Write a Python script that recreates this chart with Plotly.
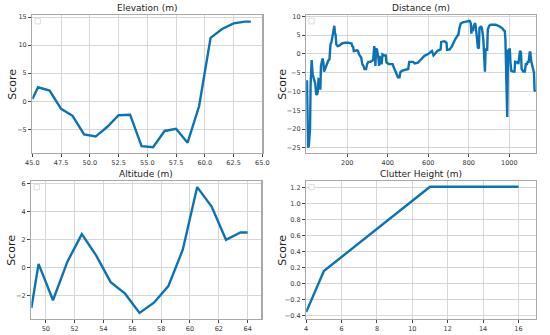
import plotly.graph_objects as go

# ---------------- data ----------------
elev_x = [45.0, 45.5, 46.5, 47.5, 48.5, 49.5, 50.5, 51.5, 52.5, 53.5, 54.5,
          55.5, 56.5, 57.5, 58.5, 59.5, 60.5, 61.5, 62.5, 63.5, 64.0]
elev_y = [0.4, 2.5, 1.9, -1.35, -2.6, -5.9, -6.3, -4.6, -2.5, -2.4, -8.0,
          -8.2, -5.3, -4.9, -7.4, -0.9, 11.3, 12.9, 13.9, 14.2, 14.2]

dist_x = [1, 3, 6, 10, 13, 16, 19, 21, 24, 29, 34, 38, 42, 46, 50, 54, 58, 62,
          64, 67, 70, 74, 78, 82, 85, 90, 98, 106, 112, 117, 122, 128, 133, 136,
          139, 142, 146, 152, 162, 173, 189, 205, 221, 224, 229, 232, 248, 253,
          258, 264, 269, 274, 280, 285, 293, 298, 304, 314, 322, 328, 333, 336,
          339, 342, 346, 350, 354, 357, 360, 365, 370, 374, 382, 390, 394, 405,
          413, 424, 430, 438, 445, 450, 458, 462, 469, 485, 501, 506, 517, 525,
          533, 549, 565, 581, 597, 610, 618, 626, 637, 645, 661, 664, 680, 690,
          693, 706, 717, 722, 733, 741, 749, 754, 760, 770, 789, 802, 805, 810,
          813, 816, 821, 824, 832, 837, 840, 845, 850, 853, 861, 866, 872, 877,
          880, 883, 886, 891, 894, 901, 909, 933, 949, 965, 973, 978, 981, 984,
          987, 990, 994, 997, 1000, 1003, 1006, 1010, 1021, 1026, 1029, 1037,
          1042, 1045, 1048, 1053, 1058, 1061, 1069, 1077, 1082, 1088, 1091, 1096,
          1101, 1104, 1109, 1117, 1122, 1125, 1130]
dist_y = [-7.0, -24.9, -24.9, -24.5, -23.0, -20.0, -8.0, -1.8, -1.6, -5.4, -6.7,
          -6.9, -8.0, -10.6, -10.9, -10.2, -6.7, -6.8, -9.3, -9.5, -3.2, -1.6,
          -1.2, -2.3, -4.7, -4.0, -2.7, -1.8, -1.4, 2.5, 3.2, 5.2, 7.4, 7.5,
          5.6, 5.2, 2.5, 2.1, 2.3, 2.8, 3.0, 3.0, 2.8, 2.1, 1.9, 0.8, 1.0, 0.8,
          -0.1, -0.5, -1.0, -2.7, -3.2, -4.0, -4.0, -2.7, -2.1, -2.1, -1.8, -1.6,
          2.1, 0.9, -3.2, 1.2, 1.4, 0.4, -1.2, -3.2, -0.5, -2.5, -2.5, -0.1,
          -0.4, -0.4, -2.3, -2.7, -2.7, -2.7, -3.6, -4.5, -5.4, -6.2, -6.2,
          -4.9, -4.5, -4.3, -4.0, -2.1, -2.1, -2.1, -2.5, -2.3, -1.4, -0.5,
          -0.1, 0.5, 0.8, -0.4, 0.3, 0.8, 1.2, 3.2, 3.4, 3.0, 1.1, 1.2, 2.1,
          2.8, 3.9, 4.6, 5.2, 6.9, 8.1, 8.4, 8.6, 8.7, 8.8, 8.2, 5.4, 6.5, 6.1,
          7.4, 8.2, 6.1, 3.9, 1.7, 1.5, 6.9, 7.4, 6.5, 3.9, -0.5, -4.7, 1.2,
          1.1, 1.1, 6.5, 7.5, 7.8, 7.8, 7.4, 6.9, 6.3, 6.1, 3.9, -4.0, -16.3,
          -16.8, 1.2, -0.1, 1.2, 1.2, -2.3, -4.5, -4.7, -4.7, -2.1, -2.1, -2.3,
          -2.7, -0.5, 0.8, 0.4, -4.0, -4.7, -4.7, -2.7, -2.7, -2.1, -2.1, 0.4,
          0.4, -2.1, -4.0, -4.9, -9.7, -10.0]

alt_x = [49.0, 49.5, 50.5, 51.5, 52.5, 53.5, 54.5, 55.5, 56.5, 57.5, 58.5,
         59.5, 60.5, 61.5, 62.5, 63.5, 64.0]
alt_y = [-2.88, 0.26, -2.33, 0.42, 2.38, 0.85, -1.04, -1.86, -3.23, -2.5,
         -1.32, 1.27, 5.73, 4.34, 1.98, 2.5, 2.5]

clut_x = [4, 5, 11, 16]
clut_y = [-0.36, 0.155, 1.21, 1.21]

titles = ["Elevation (m)", "Distance (m)", "Altitude (m)", "Clutter Height (m)"]
y_label = "Score"

# ---------------- figure ----------------
LINE = "#0b72b5"
FONT = "DejaVu Sans"
W, H = 550, 335

panels = [
    dict(x=elev_x, y=elev_y, px=(26, 262), py=(13, 152), xr=[45, 65], yr=[-9.25, 15.4],
         xt=[45, 47.5, 50, 52.5, 55, 57.5, 60, 62.5, 65], xfmt=".1f", yt=[-5, 0, 5, 10, 15], yfmt="d",
         lab_shift=-12),
    dict(x=dist_x, y=dist_y, px=(307, 543), py=(13, 152), xr=[-3, 1133], yr=[-26.4, 10.4],
         xt=[200, 400, 600, 800, 1000], xfmt="d", yt=[-25, -20, -15, -10, -5, 0, 5, 10], yfmt="d",
         lab_shift=-16),
    dict(x=alt_x, y=alt_y, px=(25, 261), py=(180, 319), xr=[49, 64.95], yr=[-3.67, 6.17],
         xt=[50, 52, 54, 56, 58, 60, 62, 64], xfmt="d", yt=[-2, 0, 2, 4, 6], yfmt="d",
         lab_shift=-12),
    dict(x=clut_x, y=clut_y, px=(307, 543), py=(180, 319), xr=[4, 17], yr=[-0.447, 1.283],
         xt=[4, 6, 8, 10, 12, 14, 16], xfmt="d", yt=[-0.4, -0.2, 0, 0.2, 0.4, 0.6, 0.8, 1.0, 1.2],
         yfmt=".1f", lab_shift=-16),
]

fig = go.Figure()
annotations = []
shapes = []
for i, p in enumerate(panels):
    n = "" if i == 0 else str(i + 1)
    xd = [p["px"][0] / W, p["px"][1] / W]
    yd = [1 - p["py"][1] / H, 1 - p["py"][0] / H]
    fig.add_trace(go.Scatter(x=p["x"], y=p["y"], mode="lines",
                             line=dict(color=LINE, width=2.4),
                             xaxis="x" + n, yaxis="y" + n, showlegend=False,
                             hoverinfo="skip"))
    common = dict(showgrid=True, gridcolor="#d6d6d6", gridwidth=1, zeroline=False,
                  showline=True, mirror=True, linecolor="#a8a8a8", linewidth=1.3,
                  ticks="outside", ticklen=3, tickwidth=1, tickcolor="#444",
                  tickfont=dict(family=FONT, size=6.5, color="#333"))
    fig.update_layout(**{
        "xaxis" + n: dict(domain=xd, range=p["xr"], anchor="y" + n,
                          tickvals=p["xt"], tickformat=p["xfmt"], **common),
        "yaxis" + n: dict(domain=yd, range=p["yr"], anchor="x" + n,
                          tickvals=p["yt"], tickformat=p["yfmt"], **common),
    })
    annotations.append(dict(text=titles[i], x=(xd[0] + xd[1]) / 2, y=yd[1],
                            xref="paper", yref="paper", xanchor="center", yanchor="bottom",
                            yshift=0, showarrow=False,
                            font=dict(family=FONT, size=9, color="#222")))
    annotations.append(dict(text=y_label, x=xd[0], y=(yd[0] + yd[1]) / 2,
                            xref="paper", yref="paper", xanchor="right", yanchor="middle",
                            xshift=p["lab_shift"], textangle=-90, showarrow=False,
                            font=dict(family=FONT, size=11, color="#222")))
    # empty legend box artifact in the upper-left corner
    shapes.append(dict(type="rect", xref="x" + n + " domain", yref="y" + n + " domain",
                       x0=0.012, x1=0.035, y0=0.935, y1=0.975,
                       line=dict(color="#dddddd", width=1), fillcolor="white"))

fig.update_layout(width=W, height=H, margin=dict(l=0, r=0, t=0, b=0),
                  paper_bgcolor="white", plot_bgcolor="white",
                  annotations=annotations, shapes=shapes,
                  font=dict(family=FONT))
fig.write_html("out.html", config={"displayModeBar": False, "staticPlot": True},
               post_script="document.body.style.margin='0px';document.body.style.overflow='hidden';")
